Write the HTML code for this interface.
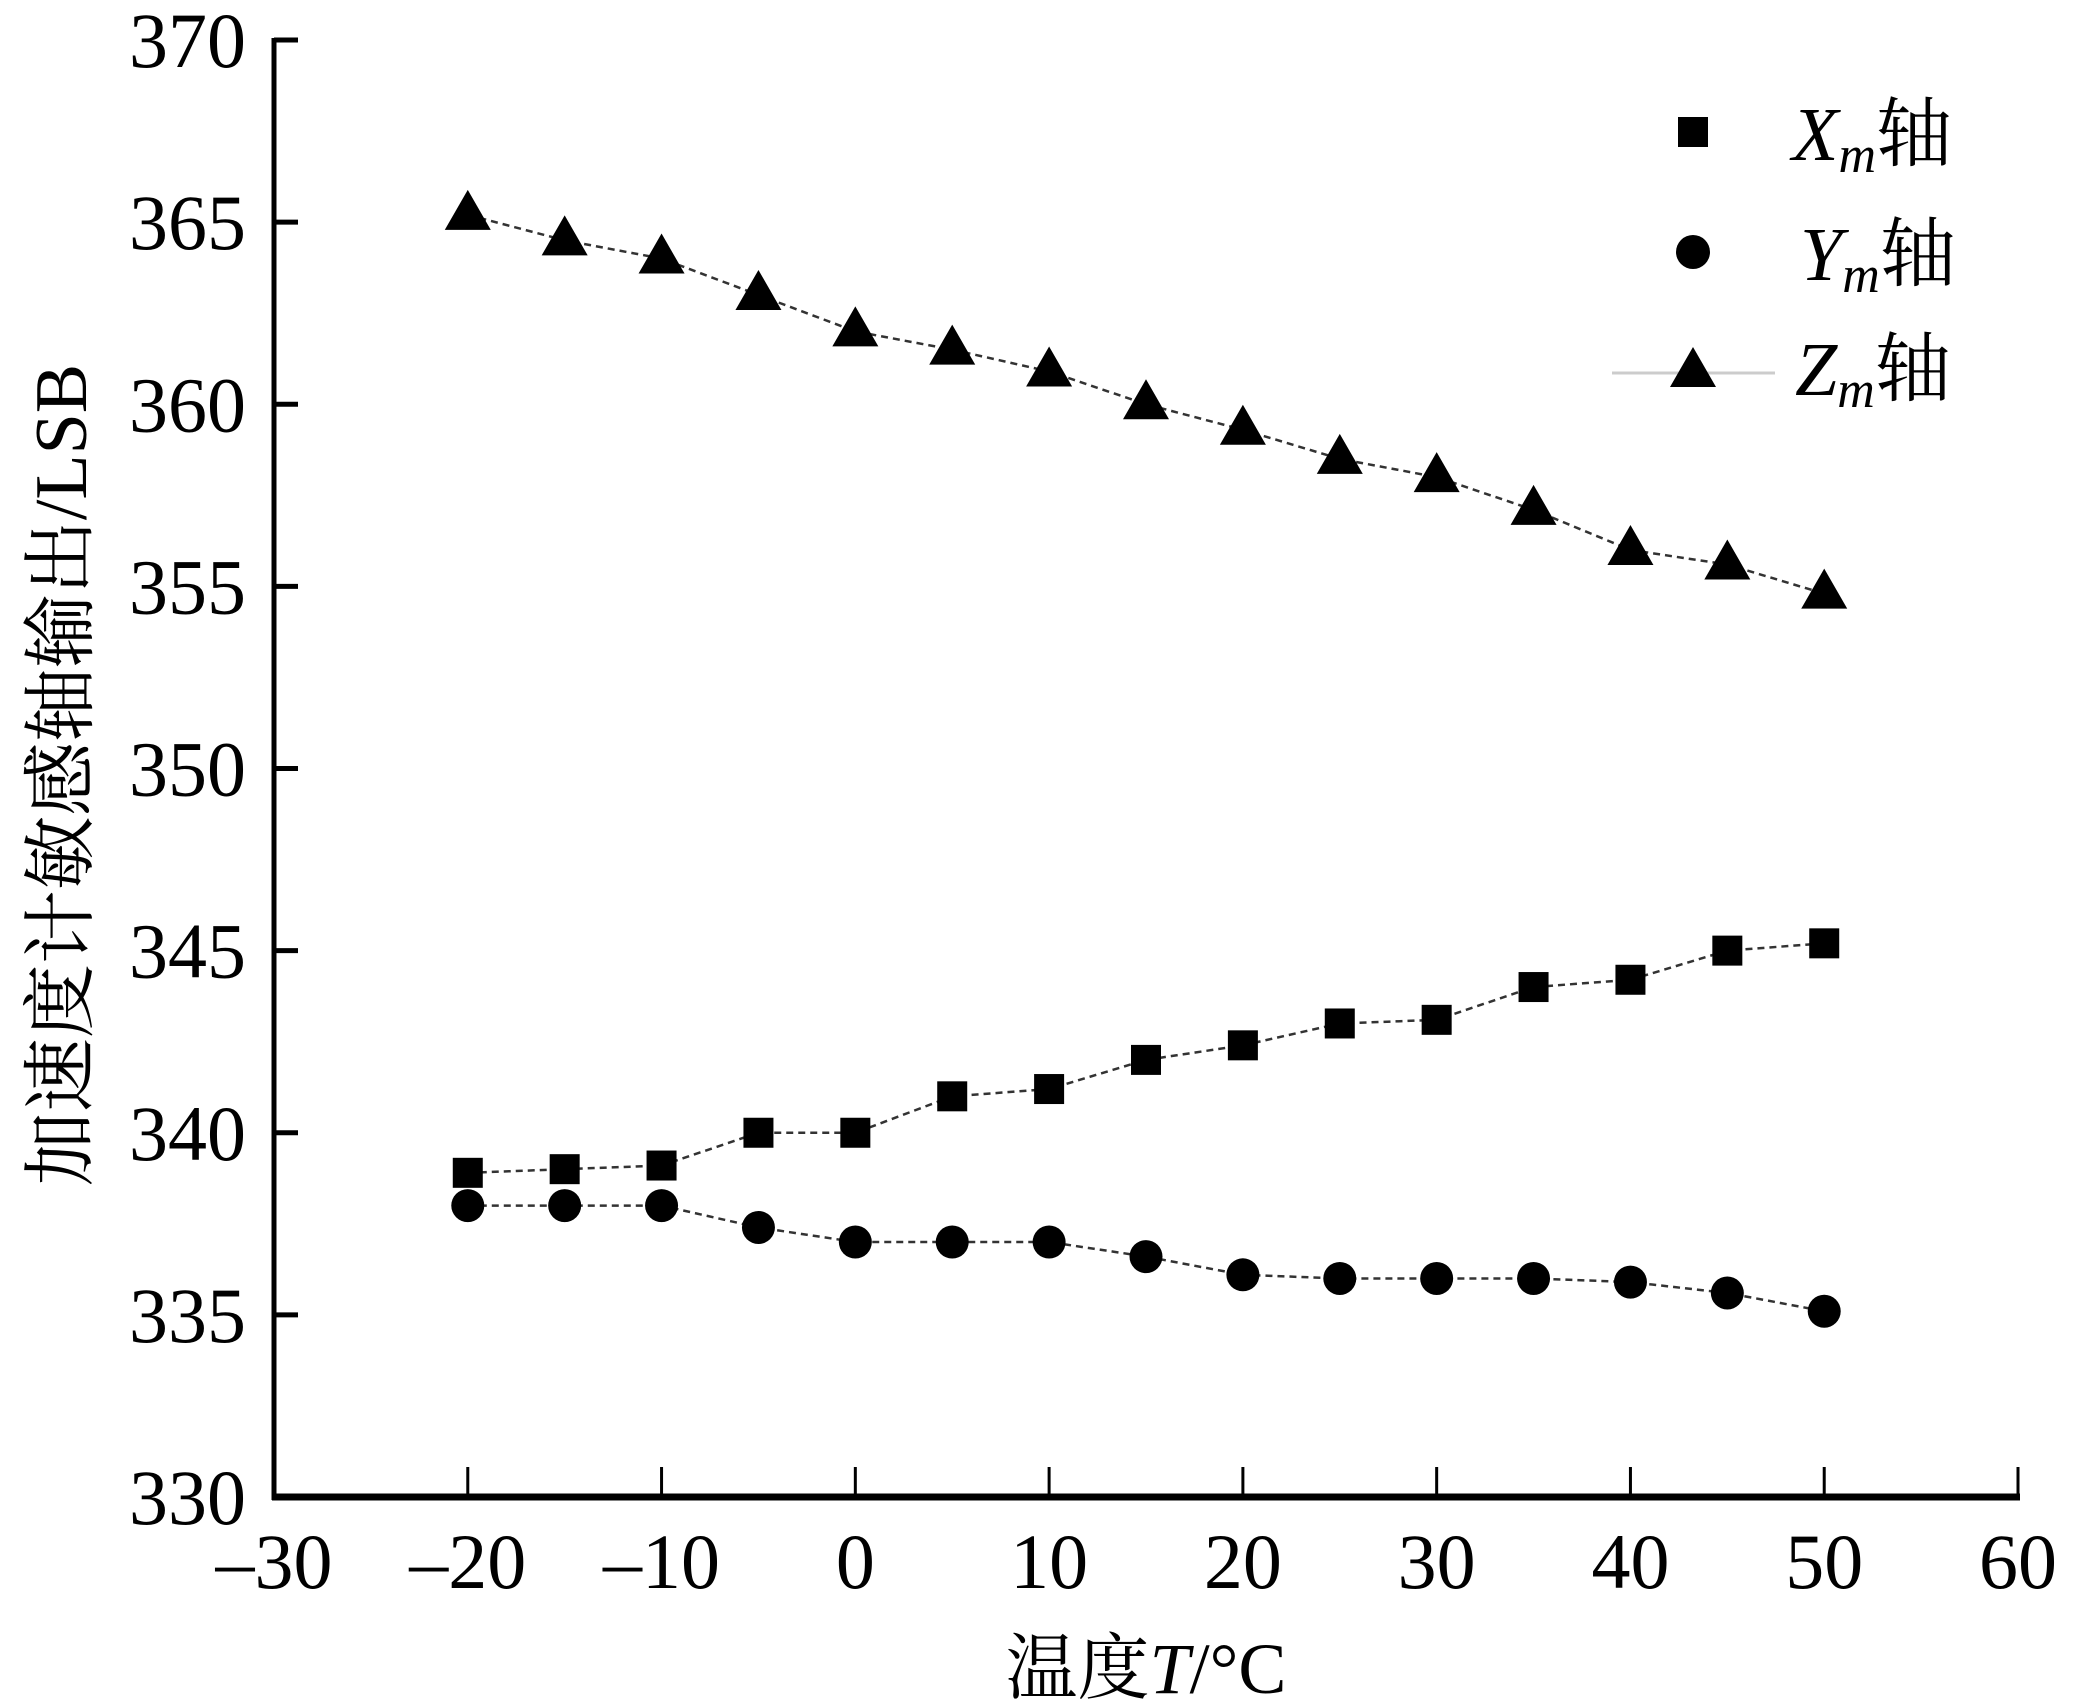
<!DOCTYPE html>
<html><head><meta charset="utf-8"><style>
html,body{margin:0;padding:0;background:#fff;}
svg{display:block;}
text{font-family:"Liberation Serif","Noto Serif CJK SC","Noto Sans CJK SC",serif;fill:#000;}
</style></head><body>
<svg id="chart" width="2095" height="1706" viewBox="0 0 2095 1706" xmlns="http://www.w3.org/2000/svg">
<g id="axes"></g>
<g id="series"></g>
<g id="legend">
  <rect x="1678" y="117" width="30" height="30" fill="#000"/>
  <text x="1792" y="160" font-size="76"><tspan font-style="italic">X</tspan><tspan font-style="italic" font-size="52" dy="12">m</tspan><tspan dy="-12">轴</tspan></text>
  <circle cx="1693" cy="252" r="17" fill="#000"/>
  <text x="1800" y="280" font-size="76"><tspan font-style="italic">Y</tspan><tspan font-style="italic" font-size="52" dy="12">m</tspan><tspan dy="-12">轴</tspan></text>
  <line x1="1612" y1="373" x2="1775" y2="373" stroke="#ccc" stroke-width="3"/>
  <polygon points="1693,347 1716,387 1670,387" fill="#000"/>
  <text x="1795" y="395" font-size="76"><tspan font-style="italic">Z</tspan><tspan font-style="italic" font-size="52" dy="12">m</tspan><tspan dy="-12">轴</tspan></text>
</g>
</svg>
<script>
const temps = [-20,-15,-10,-5,0,5,10,15,20,25,30,35,40,45,50];
const xVals = [338.9,339,339.1,340,340,341,341.2,342,342.4,343,343.1,344,344.2,345,345.2];
const yVals = [338,338,338,337.4,337,337,337,336.6,336.1,336,336,336,335.9,335.6,335.1];
const zVals = [365.2,364.5,364,363,362,361.5,360.9,360,359.3,358.5,358,357.1,356,355.6,354.8];
const xTicks = [-30,-20,-10,0,10,20,30,40,50,60];
const yTicks = [330,335,340,345,350,355,360,365,370];

const NS = "http://www.w3.org/2000/svg";
const X0=274, X1=2018, Y0=1497, Y1=40;
function sx(v){return X0+(v+30)/90*(X1-X0);}
function sy(v){return Y0-(v-330)/40*(Y0-Y1);}
function mk(tag, attrs, parent){const e=document.createElementNS(NS,tag);for(const k in attrs)e.setAttribute(k,attrs[k]);parent.appendChild(e);return e;}

const axes=document.getElementById('axes');
let l=mk('line',{x1:X0,y1:Y1-2,x2:X0,y2:Y0+3,stroke:'#000','stroke-width':5},axes);


l=mk('line',{x1:X0-2,y1:Y0,x2:X1+2,y2:Y0,stroke:'#000','stroke-width':7},axes);


xTicks.forEach(t=>{
  const tk=mk('line',{x1:sx(t),y1:Y0,x2:sx(t),y2:Y0-30,stroke:'#000','stroke-width':3},axes);
  
  
  const tx=mk('text',{x:sx(t),y:1588,'font-size':78,'text-anchor':'middle'},axes);
  tx.textContent = t<0 ? '\u2013'+Math.abs(t) : String(t);
  
  
});
yTicks.forEach(t=>{
  const tk=mk('line',{x1:X0,y1:sy(t),x2:X0+24,y2:sy(t),stroke:'#000','stroke-width':5},axes);
  
  
  const tx=mk('text',{x:246,y:sy(t)+27,'font-size':78,'text-anchor':'end'},axes);
  tx.textContent=String(t);
  
  
});
let tt=mk('text',{x:1146,y:1693,'font-size':72,'text-anchor':'middle'},axes);
tt.innerHTML='温度<tspan font-style="italic">T</tspan>/°C';


tt=mk('text',{x:0,y:0,'font-size':74,'text-anchor':'middle',transform:'translate(86,775) rotate(-90)'},axes);
tt.textContent='加速度计敏感轴输出/LSB';



const ser=document.getElementById('series');
function line(vals,name){
  const p=mk('polyline',{points:vals.map((v,i)=>sx(temps[i])+','+sy(v)).join(' '),fill:'none',stroke:'#333','stroke-width':2.5,'stroke-dasharray':'7,5'},ser);
  
  
}
line(xVals,'x-axis-series-line');
line(yVals,'y-axis-series-line');
line(zVals,'z-axis-series-line');
xVals.forEach((v,i)=>{
  const r=mk('rect',{x:sx(temps[i])-15,y:sy(v)-15,width:30,height:30,fill:'#000'},ser);
  
  
});
yVals.forEach((v,i)=>{
  const c=mk('circle',{cx:sx(temps[i]),cy:sy(v),r:16.5,fill:'#000'},ser);
  
  
});
zVals.forEach((v,i)=>{
  const x=sx(temps[i]),y=sy(v);
  const p=mk('polygon',{points:`${x},${y-25} ${x+23},${y+15} ${x-23},${y+15}`,fill:'#000'},ser);
  
  
});
</script>
</body></html>
